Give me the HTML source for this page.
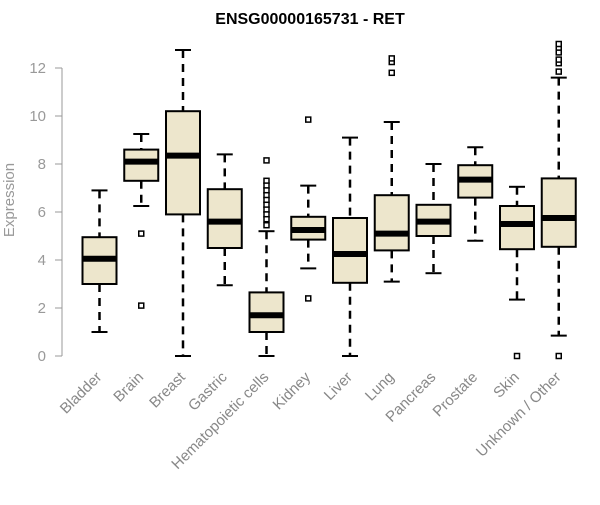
<!DOCTYPE html>
<html><head><meta charset="utf-8"><style>
body{margin:0;background:#fff;}
svg text{font-family:"Liberation Sans",Arial,sans-serif;}
</style></head><body>
<svg id="c" width="600" height="500" xmlns="http://www.w3.org/2000/svg">
<text x="310" y="24" text-anchor="middle" font-size="16" font-weight="bold">ENSG00000165731 - RET</text>
<text transform="translate(14,200) rotate(-90)" text-anchor="middle" font-size="15" fill="#999">Expression</text>
<g id="yaxis"></g>
<g id="boxes"></g>
<g id="xlabels"></g>
</svg>
<script>
const categories=["Bladder","Brain","Breast","Gastric","Hematopoietic cells","Kidney","Liver","Lung","Pancreas","Prostate","Skin","Unknown / Other"];
const lows=[1.0,6.25,0,2.95,0,3.65,0,3.1,3.45,4.8,2.35,0.85];
const q1s=[3.0,7.3,5.9,4.5,1.0,4.85,3.05,4.4,5.0,6.6,4.45,4.55];
const medians=[4.05,8.1,8.35,5.6,1.7,5.25,4.25,5.1,5.6,7.35,5.5,5.75];
const q3s=[4.95,8.6,10.2,6.95,2.65,5.8,5.75,6.7,6.3,7.95,6.25,7.4];
const highs=[6.9,9.25,12.75,8.4,5.2,7.1,9.1,9.75,8.0,8.7,7.05,11.6];
const outliers=[[],[5.1,2.1],[],[],[8.15,7.3,7.1,6.9,6.7,6.5,6.3,6.1,5.9,5.7,5.45],[9.85,2.4],[],[11.8,12.25,12.4],[],[],[0],[0,11.85,12.2,12.35,12.65,12.85,13.0]];
const yTicks=[0,2,4,6,8,10,12];
const NS="http://www.w3.org/2000/svg";
const y=v=>356-v*24;
const x=i=>99.5+i*41.75;
function mk(t,a,p){const e=document.createElementNS(NS,t);for(const k in a)e.setAttribute(k,a[k]);p.appendChild(e);return e;}
const ya=document.getElementById('yaxis');
const ax=mk('line',{x1:62,x2:62,y1:y(12),y2:y(0),stroke:'#999','stroke-width':1},ya);


yTicks.forEach(t=>{
 const l=mk('line',{x1:55,x2:62,y1:y(t),y2:y(t),stroke:'#999'},ya);
 
 
 const tx=mk('text',{x:46,y:y(t)+5,'text-anchor':'end','font-size':15,fill:'#999'},ya);
 tx.textContent=t;
 
 
});
const bx=document.getElementById('boxes'),xl=document.getElementById('xlabels');
categories.forEach((c,i)=>{
 const g=mk('g',{},bx);
 
 
 const cx=x(i),w=17;
 mk('line',{x1:cx,x2:cx,y1:y(highs[i]),y2:y(q3s[i]),stroke:'#000','stroke-width':2.5,'stroke-dasharray':'8,6'},g);
 mk('line',{x1:cx,x2:cx,y1:y(q1s[i]),y2:y(lows[i]),stroke:'#000','stroke-width':2.5,'stroke-dasharray':'8,6'},g);
 mk('line',{x1:cx-8,x2:cx+8,y1:y(highs[i]),y2:y(highs[i]),stroke:'#000','stroke-width':2},g);
 mk('line',{x1:cx-8,x2:cx+8,y1:y(lows[i]),y2:y(lows[i]),stroke:'#000','stroke-width':2},g);
 mk('rect',{x:cx-w,y:y(q3s[i]),width:2*w,height:y(q1s[i])-y(q3s[i]),fill:'#ede6cc',stroke:'#000','stroke-width':2},g);
 mk('line',{x1:cx-w,x2:cx+w,y1:y(medians[i]),y2:y(medians[i]),stroke:'#000','stroke-width':6},g);
 outliers[i].forEach(o=>{mk('rect',{x:cx-2.5,y:y(o)-2.5,width:5,height:5,fill:'#fff',stroke:'#000','stroke-width':1.5},g);});
 const t=mk('text',{transform:`translate(${cx+3},${378}) rotate(-45)`,'text-anchor':'end','font-size':15,fill:'#888'},xl);
 t.textContent=c;
 
 
});
</script>
</body></html>
